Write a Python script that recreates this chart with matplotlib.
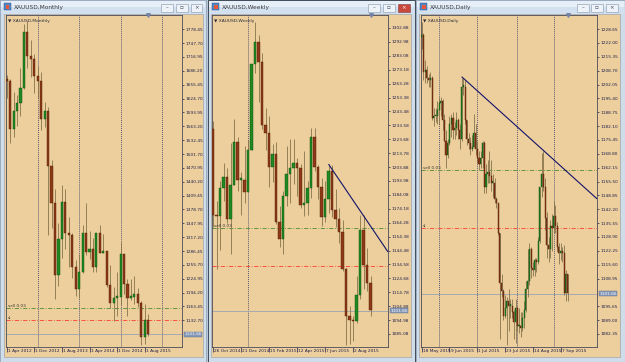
import matplotlib
matplotlib.use('Agg')
import matplotlib.pyplot as plt
from matplotlib.patches import Rectangle
import matplotlib.transforms as mtransforms
import numpy as np

# ---------------- data ----------------
# Monthly XAUUSD, Apr 2012 .. Sep 2015
m_open  = [1668,1664,1558,1598,1614,1648,1773,1719,1713,1675,1663,1579,1596,1476,1393,1234,1313,1396,1327,1323,1251,
           1202,1240,1326,1284,1291,1250,1327,1282,1287,1210,1172,1183,1184,1279,1213,1183,1184,1190,1172,1095,1134]
m_high  = [1677,1668,1640,1632,1692,1790,1796,1755,1724,1696,1684,1617,1606,1488,1424,1348,1434,1424,1362,1327,1267,
           1280,1345,1392,1331,1315,1326,1345,1324,1287,1255,1207,1239,1307,1279,1224,1224,1232,1205,1175,1170,1146]
m_low   = [1627,1527,1540,1564,1586,1645,1692,1672,1636,1626,1555,1562,1322,1338,1180,1208,1271,1292,1251,1227,1187,
           1182,1238,1277,1268,1240,1240,1281,1281,1206,1161,1131,1142,1167,1191,1142,1178,1169,1162,1077,1080,1098]
m_close = [1664,1558,1598,1614,1648,1773,1719,1713,1675,1663,1579,1596,1476,1393,1234,1313,1396,1327,1323,1251,1202,
           1240,1326,1284,1291,1250,1327,1282,1287,1210,1172,1183,1184,1279,1213,1183,1184,1190,1172,1095,1134,1102]
m_xlabels = ["1 Apr 2012", "1 Dec 2012", "1 Aug 2013", "1 Apr 2014", "1 Dec 2014", "1 Aug 2015"]
m_yticks = [1778.45,1747.70,1716.95,1686.20,1655.45,1624.70,1593.95,1563.20,1532.45,1501.70,1470.95,
            1440.20,1409.45,1378.70,1347.95,1317.20,1286.45,1255.70,1224.95,1194.20,1163.45,1132.70]
m_separators = [9, 21, 33, 45]   # January bars

# Weekly XAUUSD, 26 Oct 2014 .. 6 Sep 2015
w_open  = [1231,1170,1169,1189,1197,1167,1191,1222,1195,1195,1186,1216,1277,1293,1279,1234,1228,1204,1213,1165,
           1153,1183,1199,1203,1207,1203,1177,1178,1189,1225,1204,1190,1168,1181,1201,1173,1167,1158,1131,1098,
           1095,1094,1113,1159,1134,1121]
w_high  = [1237,1180,1194,1207,1203,1221,1238,1225,1200,1219,1223,1276,1307,1298,1285,1246,1240,1220,1222,1176,
           1187,1219,1224,1224,1210,1206,1215,1194,1232,1232,1205,1196,1194,1205,1205,1188,1175,1166,1132,1105,
           1098,1126,1170,1170,1146,1126]
w_low   = [1161,1131,1145,1180,1164,1142,1191,1187,1170,1178,1186,1216,1271,1250,1231,1216,1190,1193,1163,1147,
           1142,1176,1178,1192,1183,1175,1169,1170,1182,1201,1181,1162,1165,1171,1168,1161,1150,1130,1077,1078,
           1080,1093,1110,1117,1116,1098]
w_close = [1170,1169,1189,1197,1167,1191,1222,1195,1195,1186,1216,1277,1293,1279,1234,1228,1204,1213,1165,1153,
           1183,1199,1203,1207,1203,1177,1178,1189,1225,1204,1190,1168,1181,1201,1173,1167,1158,1131,1098,1095,
           1094,1113,1159,1134,1121,1102]
w_xlabels = ["26 Oct 2014", "21 Dec 2014", "15 Feb 2015", "12 Apr 2015", "7 Jun 2015", "2 Aug 2015"]
w_yticks = [1302.88,1292.98,1283.08,1273.18,1263.28,1253.38,1243.48,1233.58,1223.68,1213.78,1203.88,1193.98,
            1184.08,1174.18,1164.28,1154.38,1144.48,1134.58,1124.68,1114.78,1104.88,1094.98,1085.08]
w_separators = [10]
w_trend = [(33, 1206.0), (47, 1154.5)]

# Daily XAUUSD, 18 May 2015 .. 11 Sep 2015
d_open  = [1225,1226,1208,1209,1205,1204,1205,1186,1187,1187, 1190,1193,1194,1185,1175,1168,1174,1183,1186,1180,
           1181,1185,1180,1176,1201,1201,1185,1176,1174,1171, 1172,1179,1171,1167,1164,1167,1174,1153,1159,1160,
           1158,1155,1155,1147,1145,1131,1107,1103,1091,1095, 1098,1096,1096,1093,1088,1095,1086,1086,1085,1090,
           1094,1104,1108,1123,1114,1113,1118,1117,1127,1153, 1159,1153,1138,1125,1123,1134,1133,1139,1134,1124,
           1121,1122,1121,1102,1111]
d_high  = [1232,1227,1214,1211,1207,1208,1206,1191,1191,1194, 1196,1196,1195,1188,1180,1176,1187,1188,1189,1184,
           1189,1186,1183,1205,1205,1204,1185,1179,1177,1178, 1188,1183,1175,1170,1170,1175,1175,1164,1166,1170,
           1166,1159,1157,1148,1145,1131,1111,1104,1101,1100, 1104,1099,1099,1094,1099,1096,1095,1093,1093,1098,
           1108,1123,1126,1124,1117,1119,1119,1129,1153,1169, 1170,1157,1141,1129,1137,1140,1146,1144,1136,1126,
           1126,1124,1125,1113,1111]
d_low   = [1219,1204,1203,1203,1201,1201,1185,1182,1184,1183, 1183,1187,1180,1175,1162,1167,1173,1177,1176,1176,
           1178,1176,1171,1175,1197,1183,1173,1171,1168,1170, 1172,1168,1165,1161,1162,1162,1150,1150,1155,1155,
           1151,1148,1145,1143,1130,1080,1100,1089,1090,1077, 1084,1090,1090,1080,1078,1084,1083,1081,1084,1085,
           1093,1100,1106,1109,1110,1110,1112,1116,1126,1148, 1151,1132,1119,1117,1119,1122,1131,1131,1122,1116,
           1118,1117,1101,1098,1098]
d_close = [1226,1208,1209,1205,1204,1205,1186,1187,1187,1190, 1193,1194,1185,1175,1168,1174,1183,1186,1180,1181,
           1185,1180,1176,1201,1201,1185,1176,1174,1171,1172, 1179,1171,1167,1164,1167,1174,1153,1159,1160,1158,
           1155,1155,1147,1145,1131,1107,1103,1091,1095,1098, 1096,1096,1093,1088,1095,1086,1086,1085,1090,1094,
           1104,1108,1123,1114,1113,1118,1117,1127,1153,1159, 1153,1138,1125,1123,1134,1133,1139,1134,1124,1121,
           1122,1121,1102,1111,1102]
d_xlabels = ["18 May 2015", "9 Jun 2015", "1 Jul 2015", "23 Jul 2015", "14 Aug 2015", "7 Sep 2015"]
d_yticks = [1228.65,1222.00,1215.35,1208.70,1202.05,1195.40,1188.75,1182.10,1175.45,1168.80,1162.15,1155.50,
            1148.85,1142.20,1135.55,1128.90,1122.25,1115.60,1108.95,1095.65,1089.00,1082.35]
d_separators = [10, 32, 55, 76]
d_trend = [(23, 1205.8), (69, 1171.2)]

current_price = 1101.66
sell_level = 1160.8
sl_level = 1133.2
label_step = [8, 8, 16]

# ---------------- styling ----------------
W, H = 625, 362
TAN = '#EDCF9D'
FRAME = '#cfdcea'
TXT = '#1e1e4a'
BULL_F, BULL_E = '#1f8a22', '#0e4a10'
BEAR_F, BEAR_E = '#8e3a16', '#4e1a06'
WICK = '#86744c'

fig = plt.figure(figsize=(W / 100, H / 100), dpi=100)
fig.patch.set_facecolor('#b9c6d6')


def frect(x, y, w, h, z=-5, **kw):
    fig.patches.append(Rectangle((x / W, 1 - (y + h) / H), w / W, h / H,
                                 transform=fig.transFigure, zorder=z, **kw))


def ftext(x, y, s, **kw):
    fig.text(x / W, 1 - y / H, s, **kw)


def window(x0, x1, tx0, tx1, title, buttons, active):
    frect(x0, 0, x1 - x0, H, fc=FRAME, ec='#2c3644' if active else '#93a5ba', lw=0.6, z=-5)
    frect(x0 + 1, 1, x1 - x0 - 2, 6, fc='#e6eef8', ec='none', z=-4)
    frect(x0 + 1, 7, x1 - x0 - 2, 6.5, fc='#d3e0ef', ec='none', z=-4)
    frect(x0 + 4, 3, 7, 7, fc='#4f86c6', ec='#2a4f80', lw=0.3, z=-3)
    frect(x0 + 6, 5.5, 3.5, 3, fc='#e8583a', ec='none', z=-2)
    ftext(x0 + 14, 8, title, fontsize=4.2, va='center', ha='left', color='#3a3a3a')
    for k, bx in enumerate(buttons):
        red = active and k == 2
        frect(bx, 3.5, 11.5, 8, fc='#c9473b' if red else '#eef3f9',
              ec='#7a4040' if red else '#8696aa', lw=0.4, z=-3)
        sym = ['–', '▫', '×'][k]
        ftext(bx + 5.75, 7.8, sym, fontsize=4, ha='center', va='center',
              color='white' if red else '#404a58')
    frect(tx0, 14, tx1 - tx0, 343, fc=TAN, ec='#8e9aa8', lw=0.4, z=-4)


def chart(px0, px1, o, h, l, c, xlim, ylim, yticks, xlabels, step, seps, name,
          trend=None, sl_text=True, last_x=None):
    ax = fig.add_axes([px0 / W, 1 - 347 / H, (px1 - px0) / W, (347 - 15) / H])
    ax.set_zorder(2)
    ax.set_facecolor(TAN)
    o, h, l, c = map(np.asarray, (o, h, l, c))
    x = np.arange(len(o))
    ax.vlines(x, l, h, color=WICK, lw=0.6, zorder=3)
    up = c >= o
    bot = np.minimum(o, c)
    hgt = np.maximum(np.abs(c - o), (ylim[1] - ylim[0]) * 0.004)
    ax.bar(x[up], hgt[up], 0.62, bot[up], color=BULL_F, edgecolor=BULL_E, lw=0.3, zorder=4)
    ax.bar(x[~up], hgt[~up], 0.62, bot[~up], color=BEAR_F, edgecolor=BEAR_E, lw=0.3, zorder=4)
    for s in seps:
        ax.axvline(s, color='#3c3c6a', lw=0.55, ls=(0, (1.3, 1.3)), zorder=1)
    ax.axhline(sell_level, color='#4d8a2e', lw=0.6, ls=(0, (5, 2, 1, 2)), zorder=2)
    ax.axhline(sl_level, color='#ff3c30', lw=0.6, ls=(0, (5, 2, 1, 2)), zorder=2)
    ax.axhline(current_price, color='#9aa3b2', lw=0.6, zorder=2)
    ax.text(xlim[0] + (xlim[1] - xlim[0]) * 0.012, sell_level, 'sell 0.03', fontsize=3.1,
            color='#3a3a3a', va='bottom', ha='left', zorder=5)
    if sl_text:
        ax.text(xlim[0] + (xlim[1] - xlim[0]) * 0.012, sl_level, 'sl', fontsize=3.1,
                color='#3a3a3a', va='bottom', ha='left', zorder=5)
    if trend is not None:
        (xa, ya), (xb, yb) = trend
        slope = (yb - ya) / (xb - xa)
        xe = xlim[1]
        ax.plot([xa, xe], [ya, ya + slope * (xe - xa)], color='#12126a', lw=0.8, zorder=5,
                solid_capstyle='butt')
    ax.set_xlim(*xlim)
    ax.set_ylim(*ylim)
    for sp in ax.spines.values():
        sp.set_color('#4a4a5a')
        sp.set_linewidth(0.6)
    ax.yaxis.tick_right()
    ax.set_yticks(yticks)
    ax.set_yticklabels([f'{v:.2f}' for v in yticks])
    ax.tick_params(axis='y', direction='out', length=1.6, width=0.5, pad=0.6,
                   labelsize=3.1, colors=TXT)
    ax.set_xticks(np.arange(len(xlabels)) * step)
    ax.set_xticklabels(xlabels, ha='left')
    ax.tick_params(axis='x', direction='out', length=3.6, width=0.5, pad=-2.4,
                   labelsize=3.1, colors=TXT)
    off = mtransforms.ScaledTranslation(1.2 / 100, 0, fig.dpi_scale_trans)
    for lb in ax.get_xticklabels():
        lb.set_transform(lb.get_transform() + off)
    tr = mtransforms.blended_transform_factory(ax.transAxes, ax.transData)
    ax.text(1.012, current_price, f'{current_price:.2f}', transform=tr, fontsize=3.1,
            va='center', ha='left', color='#f2f4f8', zorder=6, clip_on=False,
            bbox=dict(boxstyle='square,pad=0.12', fc='#8799b8', ec='#5a6a8a', lw=0.3))
    ax.text(0.012, 0.988, '▼ XAUUSD,' + name, transform=ax.transAxes, fontsize=3.2,
            va='top', ha='left', color='#2a2a3a', zorder=6)
    if last_x is not None:
        trx = mtransforms.blended_transform_factory(ax.transData, ax.transAxes)
        ax.plot([last_x], [1.0], marker='v', ms=2.6, color='#7484a8', mec='#7484a8',
                transform=trx, clip_on=False, zorder=7)
    return ax


window(0, 206, 4, 203, 'XAUUSD,Monthly', [161, 176, 191], False)
window(208, 415, 211, 411, 'XAUUSD,Weekly', [368, 383, 398], True)
window(416, 625, 419, 620, 'XAUUSD,Daily', [577, 591, 606], False)

chart(6, 182, m_open, m_high, m_low, m_close, (-0.2, 50.8), (1073.5, 1810.1),
      m_yticks, m_xlabels, label_step[0], m_separators, 'Monthly', last_x=len(m_open) - 1)
chart(212, 388, w_open, w_high, w_low, w_close, (-0.29, 50.0), (1075.8, 1312.1),
      w_yticks, w_xlabels, label_step[1], w_separators, 'Weekly', trend=w_trend,
      sl_text=False, last_x=len(w_open) - 1)
chart(421, 597, d_open, d_high, d_low, d_close, (-0.4, 100.9), (1076.1, 1235.4),
      d_yticks, d_xlabels, label_step[2], d_separators, 'Daily', trend=d_trend,
      last_x=len(d_open) - 1)

fig.savefig('out.png', dpi=100, facecolor=fig.get_facecolor())
